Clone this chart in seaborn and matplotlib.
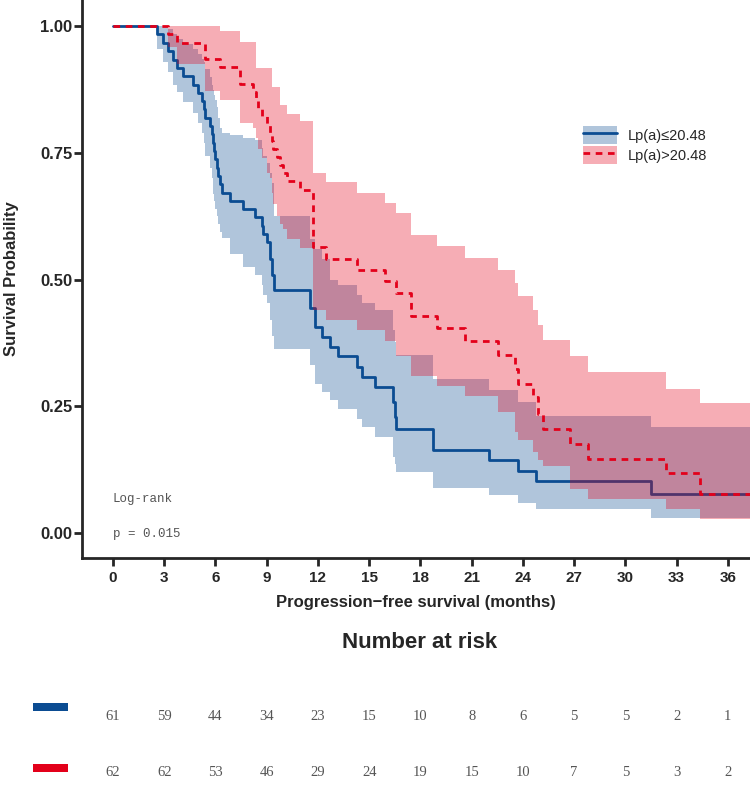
import numpy as np
import pandas as pd
import matplotlib
matplotlib.use("Agg")
import matplotlib.pyplot as plt
import seaborn as sns
from matplotlib.patches import Patch, Rectangle
from matplotlib.lines import Line2D
from matplotlib.legend_handler import HandlerTuple

# ---------------- data ----------------
group_labels = ["Lp(a)\u226420.48", "Lp(a)>20.48"]

blue_t = [0, 2.6, 2.95, 3.24, 3.5, 3.73, 4.1, 4.7, 5.0, 5.2,
          5.3, 5.4, 5.68, 5.78, 5.87, 5.92, 5.97, 6.07, 6.17, 6.26,
          6.36, 6.85, 7.6, 8.3, 8.7, 8.8, 9.0, 9.2, 9.3, 9.4,
          11.53, 11.83, 12.22, 12.7, 13.2, 14.27, 14.56, 15.34, 16.41, 16.5,
          16.6, 18.72, 22.03, 23.7, 24.77, 31.5, 37.5]
blue_s = [1.0, 0.984, 0.967, 0.951, 0.934, 0.918, 0.902, 0.885, 0.869, 0.852,
          0.836, 0.82, 0.803, 0.787, 0.77, 0.754, 0.738, 0.721, 0.705, 0.689,
          0.672, 0.656, 0.639, 0.623, 0.607, 0.59, 0.574, 0.541, 0.51, 0.48,
          0.444, 0.407, 0.388, 0.368, 0.349, 0.328, 0.308, 0.288, 0.259, 0.229,
          0.206, 0.164, 0.144, 0.123, 0.103, 0.077, 0.077]
blue_lo = [1.0, 0.955, 0.93, 0.91, 0.885, 0.87, 0.85, 0.83, 0.81, 0.79,
           0.77, 0.745, 0.72, 0.70, 0.67, 0.655, 0.64, 0.625, 0.61, 0.595,
           0.583, 0.55, 0.525, 0.51, 0.49, 0.47, 0.455, 0.42, 0.39, 0.364,
           0.331, 0.295, 0.278, 0.262, 0.245, 0.226, 0.209, 0.189, 0.15, 0.136,
           0.12, 0.089, 0.076, 0.059, 0.047, 0.03, 0.03]
blue_hi = [1.0, 1.0, 1.0, 0.995, 0.985, 0.975, 0.965, 0.955, 0.945, 0.935,
           0.93, 0.915, 0.90, 0.885, 0.874, 0.865, 0.855, 0.84, 0.82, 0.80,
           0.79, 0.785, 0.78, 0.775, 0.76, 0.745, 0.73, 0.71, 0.69, 0.626,
           0.58, 0.56, 0.54, 0.50, 0.49, 0.47, 0.455, 0.44, 0.40, 0.378,
           0.351, 0.305, 0.282, 0.259, 0.232, 0.209, 0.209]

red_t = [0, 3.24, 3.73, 5.39, 6.26, 7.43, 8.2, 8.35, 8.5, 8.7,
         9.0, 9.19, 9.3, 9.39, 9.58, 9.78, 9.97, 10.17, 10.95, 11.73,
         12.5, 14.27, 15.93, 16.6, 17.45, 18.95, 20.6, 22.56, 23.54, 23.7,
         24.6, 24.9, 25.2, 26.76, 27.8, 32.4, 34.37, 37.5]
red_s = [1.0, 0.984, 0.968, 0.935, 0.919, 0.887, 0.871, 0.855, 0.839, 0.823,
         0.806, 0.79, 0.774, 0.758, 0.742, 0.726, 0.71, 0.694, 0.677, 0.564,
         0.54, 0.52, 0.497, 0.474, 0.429, 0.404, 0.38, 0.351, 0.323, 0.295,
         0.268, 0.235, 0.206, 0.176, 0.146, 0.118, 0.077, 0.077]
red_lo = [1.0, 0.96, 0.925, 0.872, 0.855, 0.81, 0.80, 0.78, 0.758, 0.74,
          0.711, 0.70, 0.672, 0.65, 0.626, 0.61, 0.60, 0.58, 0.562, 0.44,
          0.42, 0.40, 0.38, 0.35, 0.31, 0.29, 0.27, 0.239, 0.20, 0.183,
          0.16, 0.145, 0.133, 0.087, 0.067, 0.047, 0.027, 0.027]
red_hi = [1.0, 1.0, 1.0, 1.0, 0.99, 0.97, 0.97, 0.917, 0.917, 0.917,
          0.917, 0.917, 0.88, 0.88, 0.88, 0.844, 0.844, 0.827, 0.814, 0.711,
          0.692, 0.672, 0.652, 0.632, 0.589, 0.566, 0.543, 0.52, 0.493, 0.467,
          0.44, 0.41, 0.381, 0.349, 0.318, 0.285, 0.257, 0.257]

risk_times = [0, 3, 6, 9, 12, 15, 18, 21, 24, 27, 30, 33, 36]
risk_blue = [61, 59, 44, 34, 23, 15, 10, 8, 6, 5, 5, 2, 1]
risk_red = [62, 62, 53, 46, 29, 24, 19, 15, 10, 7, 5, 3, 2]

y_ticks = [0.0, 0.25, 0.5, 0.75, 1.0]
logrank_lines = ["Log-rank", "p = 0.015"]

# ---------------- style ----------------
sns.set_style("ticks")
plt.rcParams["font.family"] = ["Liberation Sans", "DejaVu Sans"]

BLUE = "#0b4c92"
RED = "#e3001a"
BAND_A = 0.32

W, H = 750, 788
fig = plt.figure(figsize=(W / 100, H / 100), dpi=100)
ax = fig.add_axes([82 / W, 1 - 557.5 / H, 668 / W, 557.5 / H])

XLIM = (-1.815, 37.3)
ax.set_xlim(*XLIM)
ax.set_ylim(-0.048, 1.052)

blue_df = pd.DataFrame({"time": blue_t, "surv": blue_s})
red_df = pd.DataFrame({"time": red_t, "surv": red_s})

ax.fill_between(blue_t, blue_lo, blue_hi, step="post", color=BLUE,
                alpha=BAND_A, lw=0, zorder=1)
sns.lineplot(data=blue_df, x="time", y="surv", drawstyle="steps-post",
             estimator=None, sort=False, color=BLUE, lw=2.0, ax=ax, zorder=2)
ax.fill_between(red_t, red_lo, red_hi, step="post", color=RED,
                alpha=BAND_A, lw=0, zorder=3)
sns.lineplot(data=red_df, x="time", y="surv", drawstyle="steps-post",
             estimator=None, sort=False, color=RED, lw=2.0,
             linestyle=(0, (2.4, 2.0)), ax=ax, zorder=4)

# axes styling
for s in ["top", "right"]:
    ax.spines[s].set_visible(False)
for s in ["left", "bottom"]:
    ax.spines[s].set_linewidth(2.0)
ax.set_xticks(risk_times)
ax.set_yticks(y_ticks)
ax.set_yticklabels([f"{v:.2f}" for v in y_ticks])
ax.tick_params(axis="y", width=2.0, length=6, pad=1, labelsize=12)
ax.tick_params(axis="x", width=2.0, length=6, pad=4, labelsize=11)
for lab in ax.get_xticklabels() + ax.get_yticklabels():
    lab.set_fontweight("bold")
ax.set_xlabel("Progression\u2212free survival (months)", fontsize=12,
              fontweight="bold", labelpad=7)
ax.set_ylabel("Survival Probability", fontsize=12, fontweight="bold")
ax.yaxis.set_label_coords(-0.094, 0.5)

# legend
h_blue = (Patch(facecolor=BLUE, alpha=BAND_A, lw=0),
          Line2D([], [], color=BLUE, lw=2.0))
h_red = (Patch(facecolor=RED, alpha=BAND_A, lw=0),
         Line2D([], [], color=RED, lw=2.0, linestyle=(0, (2.4, 2.0))))
ax.legend([h_blue, h_red], group_labels,
          handler_map={tuple: HandlerTuple(ndivide=1, pad=0)},
          loc="upper left", bbox_to_anchor=(583 / W, 1 - 126 / H),
          bbox_transform=fig.transFigure, frameon=False, fontsize=10.5,
          handlelength=2.3, handleheight=1.55, labelspacing=0.1,
          handletextpad=0.75, borderpad=0, borderaxespad=0)

# log-rank annotation
ax.text(0, 0.067, logrank_lines[0], family="Liberation Mono", fontsize=9,
        color="#555555", ha="left", va="center")
ax.text(0, -0.002, logrank_lines[1], family="Liberation Mono", fontsize=9,
        color="#555555", ha="left", va="center")

# number at risk
fig.text(420 / W, 1 - 643 / H, "Number at risk", fontsize=16,
         fontweight="bold", ha="center", va="center")
axr = fig.add_axes([82 / W, 0, 668 / W, 95 / H])
axr.set_xlim(*XLIM)
axr.set_ylim(0, 95)
axr.axis("off")
for t, nb, nr in zip(risk_times, risk_blue, risk_red):
    axr.text(t, 788 - 717, str(nb), family="Liberation Serif", fontsize=10.5,
             color="#555555", ha="center", va="center")
    axr.text(t, 788 - 773, str(nr), family="Liberation Serif", fontsize=10.5,
             color="#555555", ha="center", va="center")
fig.add_artist(Rectangle((33 / W, 1 - 711 / H), 35 / W, 8 / H,
                         transform=fig.transFigure, color=BLUE, lw=0))
fig.add_artist(Rectangle((33 / W, 1 - 772 / H), 35 / W, 8 / H,
                         transform=fig.transFigure, color=RED, lw=0))

fig.savefig("out.png", dpi=100)
